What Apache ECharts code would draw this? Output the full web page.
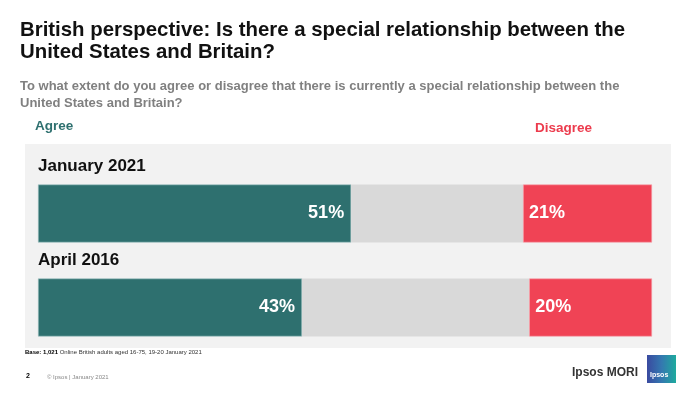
<!DOCTYPE html>
<html>
<head>
<meta charset="utf-8">
<style>
html,body{margin:0;padding:0;background:#fff;}
#chart{width:700px;height:394px;}
</style>
<script src="https://cdn.jsdelivr.net/npm/echarts@6/dist/echarts.min.js"></script>
</head>
<body>
<div id="chart"></div>
<script>
var categories = ['January 2021', 'April 2016'];
var agree = [51, 43];
var disagree = [21, 20];
var neutral = [28, 37]; // remainder to 100

var chart = echarts.init(document.getElementById('chart'), null, {renderer: 'canvas'});
var FONT = 'Liberation Sans, Arial, sans-serif';
var option = {
  animation: false,
  backgroundColor: '#ffffff',
  graphic: [
    {type: 'rect', z: -10, shape: {x: 25, y: 144, width: 646, height: 204}, style: {fill: '#f2f2f2'}},
    {type: 'text', left: 20, top: 19, style: {text: 'British perspective: Is there a special relationship between the\nUnited States and Britain?', fill: '#111', font: 'bold 20.4px ' + FONT, lineHeight: 22}},
    {type: 'text', left: 20, top: 78, style: {text: 'To what extent do you agree or disagree that there is currently a special relationship between the\nUnited States and Britain?', fill: '#808080', font: 'bold 13px ' + FONT, lineHeight: 17}},
    {type: 'text', left: 35, top: 119, style: {text: 'Agree', fill: '#2e706f', font: 'bold 13.5px ' + FONT}},
    {type: 'text', left: 535, top: 121, style: {text: 'Disagree', fill: '#ec3b4d', font: 'bold 13.5px ' + FONT}},
    {type: 'text', left: 25, top: 349, style: {text: '{b|Base: 1,021} Online British adults aged 16-75, 19-20 January 2021', fill: '#333', font: '6px ' + FONT, rich: {b: {fontWeight: 'bold', fontSize: 6, fill: '#000'}}}},
    {type: 'text', left: 26, top: 373, style: {text: '2', fill: '#000', font: 'bold 7px ' + FONT}},
    {type: 'text', left: 47, top: 374, style: {text: '\u00a9 Ipsos | January 2021', fill: '#888', font: '6px ' + FONT}},
    {type: 'text', left: 572, top: 367, style: {text: 'Ipsos MORI', fill: '#333', font: 'bold 12px ' + FONT}},
    {type: 'rect', shape: {x: 647, y: 355, width: 29, height: 28}, style: {fill: new echarts.graphic.LinearGradient(0, 0, 1, 0, [{offset: 0, color: '#3a4aa0'}, {offset: 0.5, color: '#3478b0'}, {offset: 1, color: '#1eaa9e'}])}},
    {type: 'text', left: 650, top: 372, style: {text: 'Ipsos', fill: '#fff', font: 'bold 7px ' + FONT}}
  ],
  grid: {left: 38, right: 48, top: 166.5, height: 188, containLabel: false},
  xAxis: {type: 'value', min: 0, max: 100, show: false},
  yAxis: {
    type: 'category', data: categories, inverse: true,
    axisLine: {show: false}, axisTick: {show: false}, splitLine: {show: false},
    axisLabel: {show: true, inside: true, interval: 0, hideOverlap: false, margin: 0, align: 'left', verticalAlign: 'middle',
      formatter: '{c|{value}}',
      rich: {c: {color: '#111', fontFamily: FONT, fontWeight: 'bold', fontSize: 17, padding: [0, 0, 94, 0]}}}
  },
  series: [
    {type: 'bar', stack: 's', data: agree, barWidth: 58, itemStyle: {color: '#2e706f', borderColor: '#9fc3c2', borderWidth: 0.6},
     label: {show: true, position: 'insideRight', distance: 7, formatter: '{c}%', color: '#fff', fontFamily: FONT, fontWeight: 'bold', fontSize: 18}},
    {type: 'bar', stack: 's', data: neutral, barWidth: 58, itemStyle: {color: '#d9d9d9'}},
    {type: 'bar', stack: 's', data: disagree, barWidth: 58, itemStyle: {color: '#f04355', borderColor: '#f7a0a8', borderWidth: 0.6},
     label: {show: true, position: 'insideLeft', distance: 6, formatter: '{c}%', color: '#fff', fontFamily: FONT, fontWeight: 'bold', fontSize: 18}}
  ]
};
chart.setOption(option);
</script>
</body>
</html>
